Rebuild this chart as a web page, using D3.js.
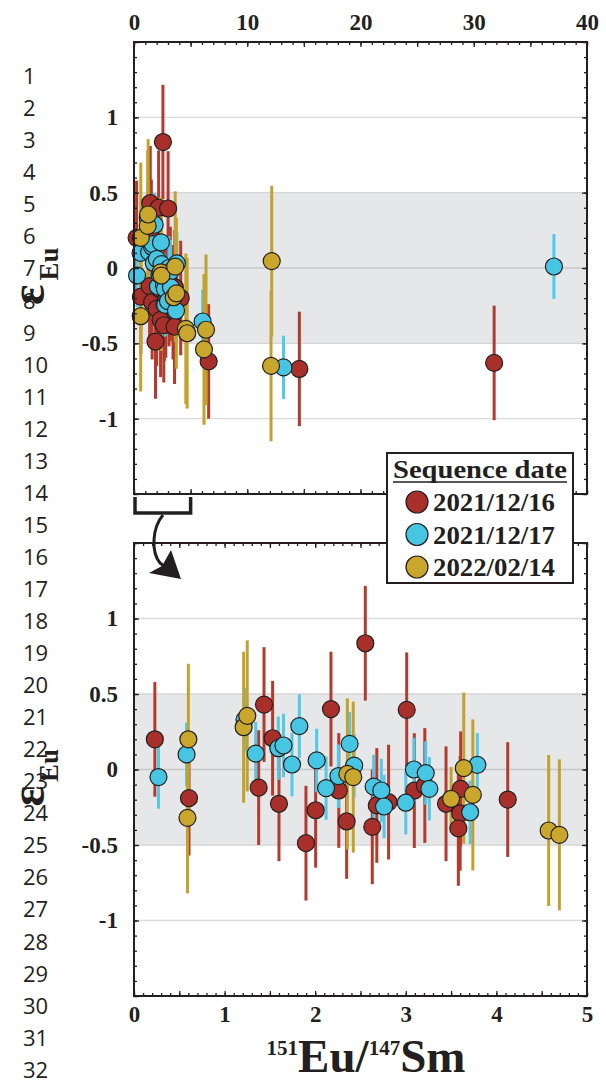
<!DOCTYPE html>
<html><head><meta charset="utf-8">
<script src="https://cdn.jsdelivr.net/npm/d3@7"></script>
<style>
html,body{margin:0;padding:0;background:#fff;}
svg{display:block;}
</style></head><body>
<svg id="c" width="606" height="1083"></svg>
<script>
// ---------------- data ----------------
const seriesNames = ["2021/12/16", "2021/12/17", "2022/02/14"];

const redX   = [0.23, 0.607, 1.376, 1.435, 1.53, 1.60, 1.898, 2.005, 2.174, 2.26, 2.347, 2.553, 2.63, 2.68, 2.81, 3.01, 3.094, 3.21, 3.444, 3.606, 3.60, 3.58, 4.125, 6.59, 14.6, 31.8];
const redY   = [0.20, -0.19, -0.12, 0.43, 0.207, -0.227, -0.488, -0.27, 0.40, -0.139, -0.344, 0.836, -0.38, -0.238, -0.216, 0.395, -0.14, -0.106, -0.227, -0.128, -0.29, -0.39, -0.199, -0.62, -0.67, -0.63];
const redErr = [0.38, 0.38, 0.38, 0.38, 0.38, 0.38, 0.38, 0.38, 0.38, 0.38, 0.38, 0.38, 0.38, 0.38, 0.38, 0.38, 0.38, 0.38, 0.38, 0.38, 0.38, 0.38, 0.38, 0.38, 0.38, 0.38];

const cyanX   = [0.27, 0.58, 1.22, 1.343, 1.593, 1.65, 1.744, 1.825, 2.016, 2.12, 2.256, 2.38, 2.43, 2.645, 2.73, 2.76, 3.00, 3.09, 3.22, 3.26, 3.71, 3.79, 6.06, 13.2, 37.08];
const cyanY   = [-0.05, 0.10, 0.33, 0.105, 0.141, 0.159, 0.033, 0.287, 0.06, -0.123, -0.044, 0.17, 0.026, -0.113, -0.139, -0.245, -0.22, 0.0, -0.024, -0.128, -0.283, 0.031, -0.355, -0.66, 0.01];
const cyanErr = [0.21, 0.21, 0.21, 0.21, 0.21, 0.21, 0.21, 0.21, 0.21, 0.21, 0.21, 0.21, 0.21, 0.21, 0.21, 0.21, 0.21, 0.21, 0.21, 0.21, 0.21, 0.21, 0.21, 0.21, 0.215];

const goldX   = [0.60, 0.59, 1.21, 1.25, 2.355, 2.42, 3.50, 3.64, 3.74, 4.577, 4.695, 6.18, 6.36, 12.16, 12.1];
const goldY   = [0.20, -0.32, 0.28, 0.355, -0.029, -0.05, -0.194, 0.009, -0.168, -0.404, -0.433, -0.54, -0.41, 0.046, -0.65];
const goldErr = [0.5, 0.5, 0.5, 0.5, 0.5, 0.5, 0.21, 0.5, 0.5, 0.5, 0.5, 0.5, 0.5, 0.5, 0.5];

const yTickLabels = [-1, -0.5, 0, 0.5, 1];
const topXTickLabels = [0, 10, 20, 30, 40];
const bottomXTickLabels = [0, 1, 2, 3, 4, 5];

// ---------------- styles ----------------
const fillColors = ["#a9302a", "#46c6e3", "#c9a62c"];
const barColors  = ["#b23a2e", "#52c9e8", "#c2a22c"];
const ink = "#231f20";
const serif = "'Liberation Serif', 'Times New Roman', serif";

const series = [
  {name: seriesNames[0], xs: redX, ys: redY, es: redErr},
  {name: seriesNames[1], xs: cyanX, ys: cyanY, es: cyanErr},
  {name: seriesNames[2], xs: goldX, ys: goldY, es: goldErr}
].map((s, i) => ({
  name: s.name, fill: fillColors[i], bar: barColors[i],
  pts: s.xs.map((x, j) => ({x, y: s.ys[j], e: s.es[j]}))
}));

const svg = d3.select("#c");
const L = 134, R = 587;

// line numbers
svg.append("g").selectAll("text").data(d3.range(1, 33)).join("text")
  .attr("x", 23).attr("y", d => 372.6 + (d - 10) * 32.05)
  .attr("font-family", "'Open Sans', 'Noto Sans', sans-serif")
  .attr("font-size", 22).attr("fill", ink).text(d => d);

const panels = [
  {top: 42, bottom: 494, xmax: 40, xMinor: 1, xMajor: 5, labels: topXTickLabels, side: "top"},
  {top: 543, bottom: 996, xmax: 5, xMinor: 0.1, xMajor: 0.5, labels: bottomXTickLabels, side: "bottom"}
];

const scales = [];
panels.forEach((p, pi) => {
  const x = d3.scaleLinear().domain([0, p.xmax]).range([L, R]);
  const y = d3.scaleLinear().domain([-1.5, 1.5]).range([p.bottom, p.top]);
  scales.push({x, y});
  const g = svg.append("g");

  // band
  g.append("rect").attr("x", L).attr("width", R - L)
    .attr("y", y(0.5)).attr("height", y(-0.5) - y(0.5)).attr("fill", "#e6e7e8");
  // grid lines
  const gridSpec = [[1, "#dcdcdc"], [0.5, "#d6d6d6"], [0, "#c8c8c8"], [-0.5, "#d6d6d6"], [-1, "#dcdcdc"]];
  g.selectAll("line.grid").data(gridSpec).join("line").attr("class", "grid")
    .attr("x1", L).attr("x2", R).attr("y1", d => y(d[0])).attr("y2", d => y(d[0]))
    .attr("stroke", d => d[1]).attr("stroke-width", 1.3);

  const inRange = d => d.x <= p.xmax;
  // error bars
  series.forEach(s => {
    g.append("g").selectAll("line").data(s.pts.filter(inRange)).join("line")
      .attr("x1", d => x(d.x)).attr("x2", d => x(d.x))
      .attr("y1", d => y(d.y + d.e)).attr("y2", d => y(d.y - d.e))
      .attr("stroke", s.bar).attr("stroke-width", 3);
  });
  // points
  series.forEach(s => {
    g.append("g").selectAll("circle").data(s.pts.filter(inRange)).join("circle")
      .attr("cx", d => x(d.x)).attr("cy", d => y(d.y)).attr("r", 8.5)
      .attr("fill", s.fill).attr("stroke", ink).attr("stroke-width", 1.2);
  });

  // axes
  const yMinor = d3.range(-15, 16).map(i => i / 10);
  const yMajor = d3.range(-3, 4).map(i => i / 2);
  const xMinor = d3.range(0, Math.round(p.xmax / p.xMinor) + 1).map(i => +(i * p.xMinor).toFixed(3));
  const xMajor = d3.range(0, Math.round(p.xmax / p.xMajor) + 1).map(i => +(i * p.xMajor).toFixed(3));
  const clean = sel => { sel.select(".domain").remove(); sel.selectAll("line").attr("stroke", ink).attr("stroke-width", 1.3); };

  g.append("g").attr("transform", `translate(${L},0)`).call(d3.axisLeft(y).tickValues(yMinor).tickSize(-3).tickFormat("")).call(clean);
  g.append("g").attr("transform", `translate(${R},0)`).call(d3.axisRight(y).tickValues(yMinor).tickSize(-3).tickFormat("")).call(clean);
  g.append("g").attr("transform", `translate(${R},0)`).call(d3.axisRight(y).tickValues(yMajor).tickSize(-5).tickFormat("")).call(clean);
  const yl = g.append("g").attr("transform", `translate(${L},0)`)
    .call(d3.axisLeft(y).tickValues(yMajor).tickSize(-5).tickPadding(16)
      .tickFormat(d => yTickLabels.includes(d) ? String(d) : "")).call(clean);
  yl.selectAll("text").attr("font-family", serif).attr("font-weight", "bold").attr("font-size", 23).attr("fill", ink);

  g.append("g").attr("transform", `translate(0,${p.top})`).call(d3.axisTop(x).tickValues(xMinor).tickSize(-3).tickFormat("")).call(clean);
  g.append("g").attr("transform", `translate(0,${p.bottom})`).call(d3.axisBottom(x).tickValues(xMinor).tickSize(-3).tickFormat("")).call(clean);
  const xt = g.append("g").attr("transform", `translate(0,${p.top})`)
    .call(d3.axisTop(x).tickValues(xMajor).tickSize(-5).tickPadding(12)
      .tickFormat(d => (p.side === "top" && p.labels.includes(d)) ? String(d) : "")).call(clean);
  const xb = g.append("g").attr("transform", `translate(0,${p.bottom})`)
    .call(d3.axisBottom(x).tickValues(xMajor).tickSize(-5).tickPadding(10)
      .tickFormat(d => (p.side === "bottom" && p.labels.includes(d)) ? String(d) : "")).call(clean);
  [xt, xb].forEach(a => a.selectAll("text").attr("font-family", serif).attr("font-weight", "bold")
    .attr("font-size", 23).attr("fill", ink));

  // frame
  g.append("rect").attr("x", L).attr("y", p.top).attr("width", R - L).attr("height", p.bottom - p.top)
    .attr("fill", "none").attr("stroke", ink).attr("stroke-width", 2);

  // y label (epsilon Eu)
  const yLab = svg.append("text")
    .attr("transform", `translate(44,${y(0) + 37}) rotate(-90)`)
    .attr("font-family", serif).attr("font-weight", "bold").attr("fill", ink);
  yLab.append("tspan").attr("font-size", 48).text("ε");
  yLab.append("tspan").attr("font-size", 27).attr("dx", 4).attr("dy", 14).text("Eu");
});

// bracket + curved arrow
const xs0 = scales[0].x, bTop = panels[0].bottom + 3, bBot = panels[0].bottom + 19;
svg.append("path")
  .attr("d", `M${xs0(0) + 1},${bTop} V${bBot} H${xs0(5)} V${bTop}`)
  .attr("fill", "none").attr("stroke", ink).attr("stroke-width", 3.5);
svg.append("path")
  .attr("d", "M163,515 C152,528 151,552 160,563 L165,567")
  .attr("fill", "none").attr("stroke", ink).attr("stroke-width", 3);
svg.append("path")
  .attr("d", "M181,579 L149,573 L162,566 L171,550 Z")
  .attr("fill", ink);

// legend
const lg = svg.append("g");
lg.append("rect").attr("x", 387).attr("y", 453).attr("width", 186).attr("height", 130)
  .attr("fill", "#fff").attr("stroke", ink).attr("stroke-width", 2);
lg.append("text").attr("x", 393).attr("y", 478).attr("font-family", serif).attr("font-weight", "bold")
  .attr("font-size", 26).attr("fill", ink).attr("textLength", 174).attr("lengthAdjust", "spacingAndGlyphs")
  .text("Sequence date");
lg.append("line").attr("x1", 393).attr("x2", 567).attr("y1", 482).attr("y2", 482)
  .attr("stroke", ink).attr("stroke-width", 1.6);
const ent = lg.selectAll("g.ent").data(series).join("g").attr("class", "ent")
  .attr("transform", (d, i) => `translate(0,${502 + i * 32.5})`);
ent.append("circle").attr("cx", 417).attr("cy", 0).attr("r", 11)
  .attr("fill", d => d.fill).attr("stroke", ink).attr("stroke-width", 1.2);
ent.append("text").attr("x", 433).attr("y", 9).attr("font-family", serif).attr("font-weight", "bold")
  .attr("font-size", 25).attr("fill", ink).attr("textLength", 122).attr("lengthAdjust", "spacingAndGlyphs")
  .text(d => d.name);

// x-axis title
const xt = svg.append("text").attr("x", 366).attr("y", 1072).attr("text-anchor", "middle")
  .attr("font-family", serif).attr("font-weight", "bold").attr("fill", ink);
xt.append("tspan").attr("font-size", 21).attr("dy", -17).text("151");
xt.append("tspan").attr("font-size", 47).attr("dy", 17).text("Eu/");
xt.append("tspan").attr("font-size", 21).attr("dy", -17).text("147");
xt.append("tspan").attr("font-size", 47).attr("dy", 17).text("Sm");
</script>
</body></html>
